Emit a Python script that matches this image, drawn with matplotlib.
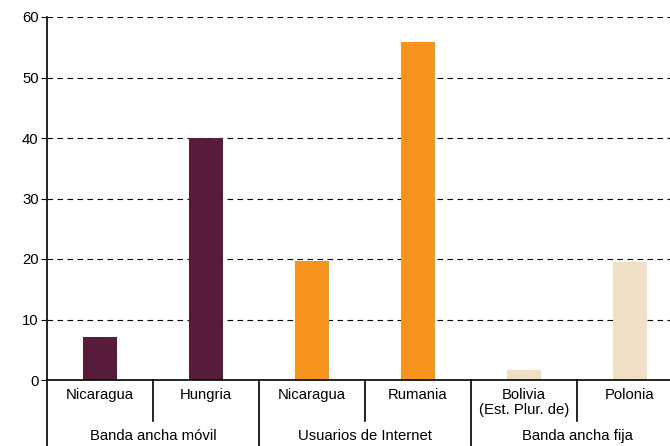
# bar chart: ICT indicators, lowest and highest country per group

import matplotlib
matplotlib.use('Agg')
import matplotlib.pyplot as plt

plt.rcParams['font.family'] = ['Liberation Sans', 'DejaVu Sans']

countries = ['Nicaragua', 'Hungria', 'Nicaragua', 'Rumania', 'Bolivia\n(Est. Plur. de)', 'Polonia']
values = [7.1, 40.0, 19.7, 55.9, 1.6, 19.5]
groups = ['Banda ancha móvil', 'Usuarios de Internet', 'Banda ancha fija']
group_colors = ['#561c3a', '#f7941d', '#efdfc6']
yticks = [0, 10, 20, 30, 40, 50, 60]

fs = 10.7

fig = plt.figure(figsize=(6.7, 4.46), dpi=100)
ax = fig.add_axes([47/670, 66/446, 636/670, 363/446])

x = list(range(len(countries)))
colors = [group_colors[i // 2] for i in x]
ax.bar(x, values, width=0.33, color=colors, zorder=2)

ax.set_xlim(-0.5, len(countries) - 0.5)
ax.set_ylim(0, 60)
ax.set_yticks(yticks)
ax.tick_params(axis='y', direction='out', length=4, width=0.8, labelsize=fs, pad=2)
ax.set_xticks([])
for t in yticks[1:]:
    ax.axhline(t, color='black', lw=0.8, ls=(0, (5, 4)), zorder=1)

for s in ['top', 'right']:
    ax.spines[s].set_visible(False)
ax.spines['bottom'].set_linewidth(1.2)
ax.spines['left'].set_linewidth(1.2)

tr = ax.get_xaxis_transform()
# country labels
for i, name in enumerate(countries):
    ax.text(i, -0.022, name, transform=tr, ha='center', va='top', fontsize=fs,
            linespacing=1.1)
# group labels
for g, name in enumerate(groups):
    ax.text(2 * g + 0.5, -0.155, name, transform=tr, ha='center', va='center', fontsize=fs)

# separators
for i in range(len(countries)):
    xs = i - 0.5
    y_end = -0.2 if i % 2 == 0 else -0.113
    ax.plot([xs, xs], [0, y_end], transform=tr, color='black', lw=1.2,
            clip_on=False)

fig.savefig('out.png', dpi=100)
